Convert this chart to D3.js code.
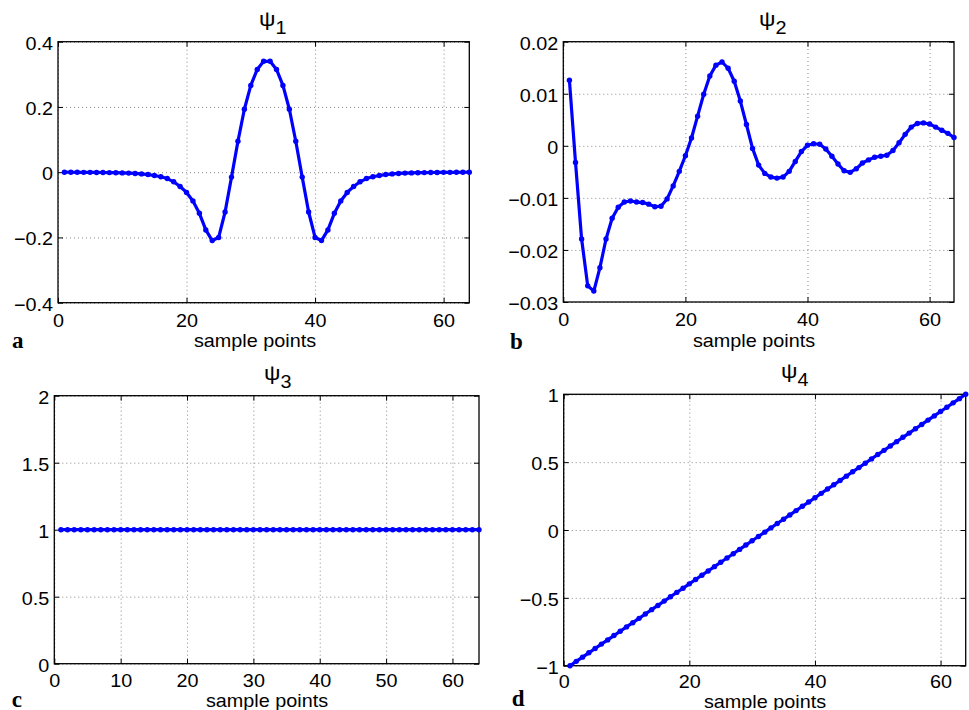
<!DOCTYPE html>
<html>
<head>
<meta charset="utf-8">
<script src="https://cdn.jsdelivr.net/npm/d3@7"></script>
<style>
  body { margin: 0; background: #fff; }
  svg { display: block; }
</style>
</head>
<body>
<svg id="chart" width="969" height="710"></svg>
<script>
// Sample index shared by all four basis functions
const sampleIndex = d3.range(1, 65);

// psi_1: localized wavelet-like basis function
const psi1 = [
  0.0000, -0.0002, -0.0003, -0.0004, -0.0005, -0.0007, -0.0009, -0.0012,
  -0.0016, -0.0021, -0.0028, -0.0038, -0.0052, -0.0072, -0.0100, -0.0140,
  -0.0195, -0.0295, -0.0440, -0.0620, -0.0880, -0.1260, -0.1770, -0.2095,
  -0.2000, -0.1220, -0.0150, 0.0950, 0.1930, 0.2660, 0.3150, 0.3400,
  0.3400, 0.3150, 0.2660, 0.1930, 0.0950, -0.0150, -0.1220, -0.2000,
  -0.2095, -0.1770, -0.1260, -0.0880, -0.0620, -0.0440, -0.0295, -0.0195,
  -0.0140, -0.0100, -0.0072, -0.0052, -0.0038, -0.0028, -0.0021, -0.0016,
  -0.0012, -0.0009, -0.0007, -0.0005, -0.0004, -0.0003, -0.0002, 0.0000
];

// psi_2: small-amplitude oscillating basis function
const psi2 = [
  0.0126, -0.0032, -0.0179, -0.0269, -0.0279, -0.0234, -0.0179, -0.0139,
  -0.0118, -0.0108, -0.0106, -0.0108, -0.0109, -0.0112, -0.0117, -0.0116,
  -0.0102, -0.0077, -0.0049, -0.0019, 0.0015, 0.0057, 0.0099, 0.0134,
  0.0155, 0.0161, 0.0149, 0.0124, 0.0086, 0.0041, -0.0005, -0.0037,
  -0.0053, -0.0060, -0.0062, -0.0060, -0.0049, -0.0030, -0.0011, 0.0001,
  0.0004, 0.0003, -0.0006, -0.0020, -0.0035, -0.0048, -0.0051, -0.0044,
  -0.0033, -0.0027, -0.0022, -0.0020, -0.0018, -0.0009, 0.0006, 0.0022,
  0.0036, 0.0043, 0.0044, 0.0042, 0.0036, 0.0030, 0.0024, 0.0016
];

// psi_3: constant basis function
const psi3 = [
  1, 1, 1, 1, 1, 1, 1, 1, 1, 1, 1, 1, 1, 1, 1, 1,
  1, 1, 1, 1, 1, 1, 1, 1, 1, 1, 1, 1, 1, 1, 1, 1,
  1, 1, 1, 1, 1, 1, 1, 1, 1, 1, 1, 1, 1, 1, 1, 1,
  1, 1, 1, 1, 1, 1, 1, 1, 1, 1, 1, 1, 1, 1, 1, 1
];

// psi_4: linear ramp basis function
const psi4 = [
  -1.000, -0.968, -0.937, -0.905, -0.873, -0.841, -0.810, -0.778,
  -0.746, -0.714, -0.683, -0.651, -0.619, -0.587, -0.556, -0.524,
  -0.492, -0.460, -0.429, -0.397, -0.365, -0.333, -0.302, -0.270,
  -0.238, -0.206, -0.175, -0.143, -0.111, -0.079, -0.048, -0.016,
  0.016, 0.048, 0.079, 0.111, 0.143, 0.175, 0.206, 0.238,
  0.270, 0.302, 0.333, 0.365, 0.397, 0.429, 0.460, 0.492,
  0.524, 0.556, 0.587, 0.619, 0.651, 0.683, 0.714, 0.746,
  0.778, 0.810, 0.841, 0.873, 0.905, 0.937, 0.968, 1.000
];

// Axis ticks
const xTicksCoarse = [0, 20, 40, 60];
const xTicksFine = [0, 10, 20, 30, 40, 50, 60];
const yTicks1 = [-0.4, -0.2, 0, 0.2, 0.4];
const yTicks2 = [-0.03, -0.02, -0.01, 0, 0.01, 0.02];
const yTicks3 = [0, 0.5, 1, 1.5, 2];
const yTicks4 = [-1, -0.5, 0, 0.5, 1];

const xLabel = "sample points";
const titleSymbol = "\u03C8";

const FONT = "'Liberation Sans', Arial, Helvetica, sans-serif";
const SERIF = "'Liberation Serif', 'Times New Roman', serif";
const FS = 18;         // tick / label font size
const SX = 1.1;        // horizontal text stretch
const LINE = "#0000ff";
const fmt = d3.format("~g");

const panels = [
  { letter: "a", sub: "1", values: psi1, yDomain: [-0.4, 0.4], yTicks: yTicks1, xTicks: xTicksCoarse,
    box: { x0: 58, x1: 469.3, y0: 41.7, y1: 302.7 }, titleX: 259, xlabelX: 255, xlabelY: 346.7,
    tickLabelY: 24, letterX: 12, letterY: 348 },
  { letter: "b", sub: "2", values: psi2, yDomain: [-0.03, 0.02], yTicks: yTicks2, xTicks: xTicksCoarse,
    box: { x0: 563.3, x1: 954, y0: 41.7, y1: 302 }, titleX: 759, xlabelX: 754, xlabelY: 346.7,
    tickLabelY: 24, letterX: 510, letterY: 349 },
  { letter: "c", sub: "3", values: psi3, yDomain: [0, 2], yTicks: yTicks3, xTicks: xTicksFine,
    box: { x0: 54.3, x1: 479, y0: 395.7, y1: 663.7 }, titleX: 264, xlabelX: 267, xlabelY: 706.5,
    tickLabelY: 23, letterX: 11.7, letterY: 706.7 },
  { letter: "d", sub: "4", values: psi4, yDomain: [-1, 1], yTicks: yTicks4, xTicks: xTicksCoarse,
    box: { x0: 563.7, x1: 965.7, y0: 394.3, y1: 665.7 }, titleX: 781, xlabelX: 765, xlabelY: 708,
    tickLabelY: 22.5, letterX: 511.7, letterY: 706 }
];

const svg = d3.select("#chart");

panels.forEach(p => {
  const b = p.box;
  const w = b.x1 - b.x0, h = b.y1 - b.y0;
  const x = d3.scaleLinear().domain([0, 64]).range([b.x0, b.x1]);
  const y = d3.scaleLinear().domain(p.yDomain).range([b.y1, b.y0]);
  const g = svg.append("g");

  // dotted grid
  const grid = g.append("g").attr("class", "grid");
  grid.append("g")
    .attr("transform", `translate(0,${b.y1})`)
    .call(d3.axisBottom(x).tickValues(p.xTicks).tickSize(-h).tickFormat(""));
  grid.append("g")
    .attr("transform", `translate(${b.x0},0)`)
    .call(d3.axisLeft(y).tickValues(p.yTicks).tickSize(-w).tickFormat(""));
  grid.selectAll(".domain").remove();
  grid.selectAll("line")
    .attr("stroke", "#8a8a8a")
    .attr("stroke-width", 1)
    .attr("stroke-dasharray", "1,3");

  // inward ticks on all four sides
  const bottom = g.append("g").attr("transform", `translate(0,${b.y1})`)
    .call(d3.axisBottom(x).tickValues(p.xTicks).tickSize(-5).tickSizeOuter(0).tickFormat(fmt));
  const top = g.append("g").attr("transform", `translate(0,${b.y0})`)
    .call(d3.axisTop(x).tickValues(p.xTicks).tickSize(-5).tickSizeOuter(0).tickFormat(""));
  const left = g.append("g").attr("transform", `translate(${b.x0},0)`)
    .call(d3.axisLeft(y).tickValues(p.yTicks).tickSize(-5).tickSizeOuter(0).tickFormat(fmt));
  const right = g.append("g").attr("transform", `translate(${b.x1},0)`)
    .call(d3.axisRight(y).tickValues(p.yTicks).tickSize(-5).tickSizeOuter(0).tickFormat(""));
  [bottom, top, left, right].forEach(a => {
    a.selectAll(".domain").remove();
    a.selectAll("line").attr("stroke", "#000").attr("stroke-width", 1);
  });

  bottom.selectAll("text")
    .attr("font-family", FONT).attr("font-size", FS).attr("fill", "#000")
    .attr("y", p.tickLabelY).attr("dy", null)
    .attr("transform", `scale(${SX},1)`);
  left.selectAll("text")
    .attr("font-family", FONT).attr("font-size", FS).attr("fill", "#000")
    .attr("x", -5 / SX).attr("dy", null).attr("y", 7.5)
    .attr("text-anchor", "end")
    .attr("transform", `scale(${SX},1)`);

  // frame
  g.append("rect")
    .attr("x", b.x0).attr("y", b.y0).attr("width", w).attr("height", h)
    .attr("fill", "none").attr("stroke", "#000").attr("stroke-width", 1.3);

  // series line and markers
  const pts = sampleIndex.map((s, i) => [s, p.values[i]]);
  g.append("path")
    .datum(pts)
    .attr("fill", "none")
    .attr("stroke", LINE)
    .attr("stroke-width", 3.2)
    .attr("stroke-linejoin", "round")
    .attr("d", d3.line().x(d => x(d[0])).y(d => y(d[1])));
  g.append("g").selectAll("circle")
    .data(pts).join("circle")
    .attr("cx", d => x(d[0])).attr("cy", d => y(d[1]))
    .attr("r", 2.7).attr("fill", LINE);

  // title psi with subscript
  const t = g.append("text")
    .attr("transform", `translate(${p.titleX},${b.y0 - 16}) scale(${SX},1)`)
    .attr("font-family", FONT).attr("font-size", 21).attr("fill", "#000");
  t.append("tspan").text(titleSymbol);
  t.append("tspan").attr("dy", 8).attr("font-size", 18).text(p.sub);

  // x-axis label
  g.append("text")
    .attr("transform", `translate(${p.xlabelX},${p.xlabelY}) scale(${SX},1)`)
    .attr("text-anchor", "middle")
    .attr("font-family", FONT).attr("font-size", FS).attr("fill", "#000")
    .text(xLabel);

  // panel letter
  g.append("text")
    .attr("x", p.letterX).attr("y", p.letterY)
    .attr("font-family", SERIF).attr("font-weight", "bold").attr("font-size", 23)
    .attr("fill", "#000")
    .text(p.letter);
});
</script>
</body>
</html>
